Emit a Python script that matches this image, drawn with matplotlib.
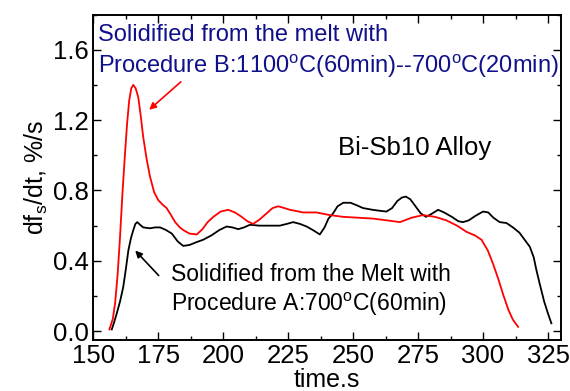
import matplotlib
matplotlib.use('Agg')
import matplotlib.pyplot as plt
from matplotlib.ticker import MultipleLocator

# solidification rate curves, Bi-Sb10 alloy
time_b = [156.2, 157.5, 158.4, 159.4, 160.3, 161.2, 162.2, 163.0, 163.8, 164.6,
          165.4, 166.3, 167.3, 168.2, 169.2, 170.5, 171.8, 173.4, 175.0, 176.6,
          178.2, 179.5, 181.5, 183.3, 184.6, 187.0, 189.8, 192.0, 194.0, 196.2,
          199.0, 201.9, 204.5, 207.1, 209.3, 211.5, 214.0, 216.7, 219.0, 221.2,
          223.5, 225.7, 230.8, 235.9, 241.0, 246.2, 252.0, 257.7, 263.0, 268.0,
          272.5, 276.9, 281.5, 285.9, 290.0, 293.6, 296.8, 299.4, 301.8, 303.8,
          305.8, 307.7, 309.8, 311.5, 313.5]
rate_b = [0.01, 0.07, 0.16, 0.33, 0.54, 0.78, 1.01, 1.18, 1.31, 1.38,
          1.40, 1.38, 1.33, 1.23, 1.105, 0.98, 0.88, 0.79, 0.745, 0.72,
          0.70, 0.67, 0.62, 0.59, 0.575, 0.555, 0.55, 0.58, 0.62, 0.65,
          0.68, 0.69, 0.675, 0.65, 0.625, 0.61, 0.635, 0.67, 0.70, 0.71,
          0.70, 0.69, 0.675, 0.675, 0.66, 0.65, 0.645, 0.64, 0.63, 0.62,
          0.645, 0.66, 0.65, 0.63, 0.60, 0.565, 0.545, 0.52, 0.46, 0.385,
          0.30, 0.21, 0.12, 0.065, 0.025]

time_a = [157.1, 158.0, 159.0, 160.3, 161.5, 162.5, 163.5, 164.5, 165.4, 166.2,
          166.9, 168.0, 169.2, 171.8, 173.8, 175.7, 178.0, 180.2, 182.5, 184.6,
          187.0, 189.5, 192.3, 195.5, 198.5, 201.3, 203.5, 205.8, 208.0, 210.3,
          214.0, 218.0, 221.8, 224.5, 226.9, 229.5, 232.1, 234.5, 237.2, 239.0,
          240.5, 242.3, 244.0, 246.2, 249.0, 251.5, 253.8, 257.5, 260.0, 262.8,
          265.0, 267.0, 268.8, 270.3, 272.0, 274.0, 276.0, 278.0, 280.0, 282.7,
          285.0, 288.0, 290.5, 292.3, 294.5, 297.0, 300.0, 302.0, 304.0, 306.4,
          309.0, 311.5, 314.0, 316.0, 318.0, 319.5, 320.5, 321.8, 323.5, 325.0,
          326.3]
rate_a = [0.01, 0.05, 0.10, 0.17, 0.25, 0.35, 0.46, 0.53, 0.575, 0.61,
          0.62, 0.605, 0.59, 0.585, 0.59, 0.59, 0.575, 0.555, 0.51, 0.485,
          0.49, 0.505, 0.52, 0.545, 0.575, 0.595, 0.59, 0.58, 0.59, 0.605,
          0.60, 0.60, 0.60, 0.61, 0.62, 0.61, 0.595, 0.575, 0.55, 0.59,
          0.64, 0.67, 0.71, 0.73, 0.73, 0.715, 0.70, 0.69, 0.685, 0.68,
          0.70, 0.74, 0.76, 0.765, 0.75, 0.71, 0.67, 0.65, 0.665, 0.69,
          0.675, 0.65, 0.625, 0.62, 0.63, 0.655, 0.68, 0.675, 0.645, 0.62,
          0.615, 0.59, 0.56, 0.52, 0.48, 0.42, 0.35, 0.27, 0.17, 0.10,
          0.045]

x_ticks = [150, 175, 200, 225, 250, 275, 300, 325]
y_ticks = [0.0, 0.4, 0.8, 1.2, 1.6]

plt.rcParams['font.family'] = ['Liberation Sans', 'DejaVu Sans']
plt.rcParams['mathtext.fontset'] = 'custom'
plt.rcParams['mathtext.rm'] = 'Liberation Sans'
plt.rcParams['mathtext.it'] = 'Liberation Sans:italic'

fig = plt.figure(figsize=(5.7, 3.91), dpi=100)
ax = fig.add_axes([0.1637, 0.1304, 0.8205, 0.8325])

ax.plot(time_a, rate_a, color='black', lw=1.3)
ax.plot(time_b, rate_b, color='red', lw=1.3)

ax.set_xlim(150, 330)
ax.set_ylim(-0.05, 1.8)
ax.set_xticks(x_ticks)
ax.set_yticks(y_ticks)
ax.set_yticklabels(['%.1f' % v for v in y_ticks])
ax.xaxis.set_minor_locator(MultipleLocator(12.5))
ax.yaxis.set_minor_locator(MultipleLocator(0.2))
ax.tick_params(which='both', direction='in', top=True, right=True, width=1.0,
               labelsize=18.5, pad=3)
ax.tick_params(which='major', length=6)
ax.tick_params(which='minor', length=3)
for sp in ax.spines.values():
    sp.set_linewidth(1.4)

ax.set_xlabel('time.s', fontsize=18, labelpad=0)
ax.set_ylabel('df$_\\mathrm{s}$/dt, %/s', fontsize=18, labelpad=2)

navy = '#10108a'
ax.text(0.009, 0.9195, 'Solidified from the melt with', transform=ax.transAxes,
        color=navy, fontsize=17, va='baseline')
ax.text(0.009, 0.820, 'Procedure B:1100$^\\mathrm{o}$C(60min)--700$^\\mathrm{o}$C(20min)',
        transform=ax.transAxes, color=navy, fontsize=17, va='baseline')
ax.text(0.524, 0.568, 'Bi-Sb10 Alloy', transform=ax.transAxes, fontsize=18.5,
        va='baseline')
ax.text(0.1655, 0.182, 'Solidified from the Melt with', transform=ax.transAxes,
        fontsize=16.5, va='baseline')
ax.text(0.1655, 0.088, 'Procedure A:700$^\\mathrm{o}$C(60min)', transform=ax.transAxes,
        fontsize=16.5, va='baseline')

ax.annotate('', xy=(170.7, 1.248), xytext=(184.5, 1.428),
            arrowprops=dict(arrowstyle='-|>', color='red', lw=1.2, mutation_scale=10))
ax.annotate('', xy=(165.4, 0.47), xytext=(175.9, 0.305),
            arrowprops=dict(arrowstyle='-|>', color='black', lw=1.2, mutation_scale=10))

fig.savefig('out.png', dpi=100)
